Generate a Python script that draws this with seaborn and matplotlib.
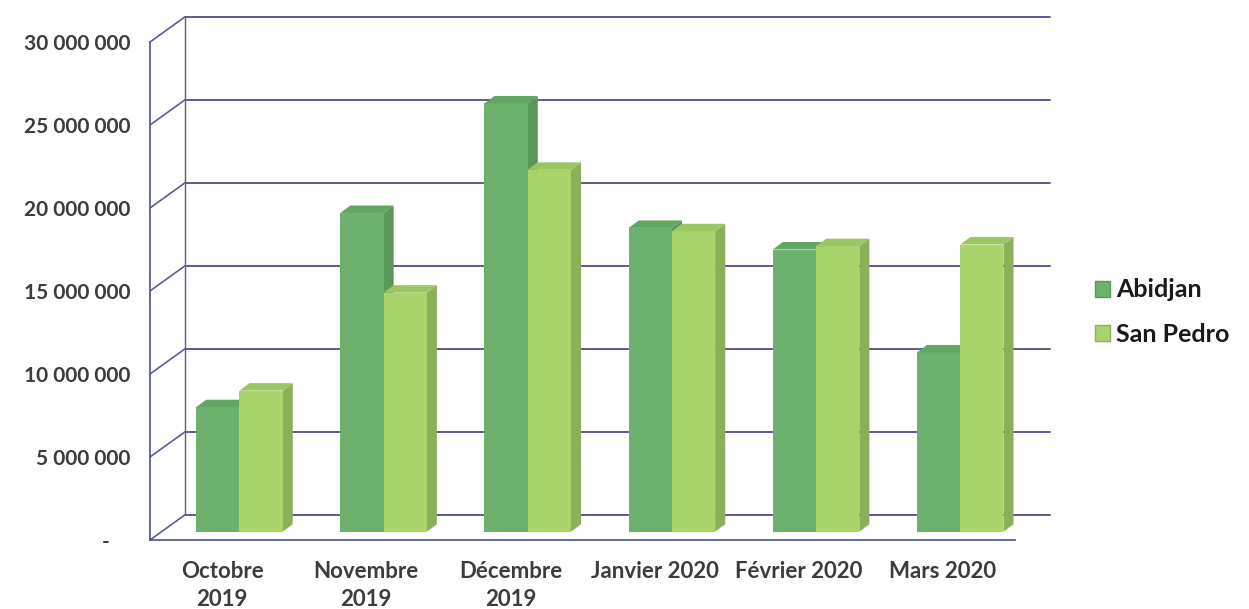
#!/usr/bin/env python3
"""
Monthly values Abidjan vs San Pedro, pseudo-3D clustered bars (Excel look).
"""

import matplotlib

matplotlib.use("Agg")
import matplotlib.pyplot as plt
import pandas as pd
import seaborn as sns
from matplotlib.patches import Patch, Polygon

months = ["Octobre\n2019", "Novembre\n2019", "Décembre\n2019", "Janvier 2020", "Février 2020", "Mars 2020"]
sites = ["Abidjan", "San Pedro"]
abidjan = [7.5e6, 19.2e6, 25.8e6, 18.3e6, 17.0e6, 10.8e6]
san_pedro = [8.5e6, 14.4e6, 21.8e6, 18.1e6, 17.2e6, 17.3e6]
yticks = [0, 5e6, 10e6, 15e6, 20e6, 25e6, 30e6]
# Excel accounting format pads the dash for zero
ytick_labels = ["-    ", "5 000 000", "10 000 000", "15 000 000", "20 000 000", "25 000 000", "30 000 000"]

front_colors = ["#6cb26e", "#a9d46c"]
side_colors = ["#5a9858", "#8cb05a"]
top_colors = ["#62a663", "#9bc763"]
grid_color = "#5a5d96"
text_color = "#3c3c3c"


def main():
    df = pd.DataFrame({
        "mois": months * 2,
        "valeur": abidjan + san_pedro,
        "site": [sites[0]] * len(months) + [sites[1]] * len(months),
    })

    sns.set_style("white")
    plt.rcParams["font.family"] = ["Lato", "DejaVu Sans"]

    fig = plt.figure(figsize=(12.49, 6.09), dpi=100)
    ax = fig.add_axes([150 / 1249, 69 / 609, 865 / 1249, 498 / 609])

    sns.barplot(data=df, x="mois", y="valeur", hue="site", order=months, hue_order=sites,
                palette=front_colors, saturation=1, width=0.6, legend=False, ax=ax)

    ax.set_xlim(-0.5, len(months) - 0.5)
    ax.set_ylim(0, 30e6)

    # depth of the fake 3D box, in data units
    depth_x, depth_y = 0.24, 1.5e6
    side_x, side_y = 0.07, 0.45e6

    # back wall gridlines + left wall diagonals
    for y in yticks:
        ax.plot([-0.5 + depth_x, len(months) - 0.5 + depth_x], [y + depth_y, y + depth_y],
                color=grid_color, lw=1.4, clip_on=False, zorder=0.5)
        ax.plot([-0.5, -0.5 + depth_x], [y, y + depth_y],
                color=grid_color, lw=1.2, clip_on=False, zorder=0.5)
    ax.plot([-0.5 + depth_x, -0.5 + depth_x], [depth_y, 30e6 + depth_y],
            color=grid_color, lw=1.0, clip_on=False, zorder=0.5)

    # bars sit at mid depth; add side and top faces
    n = len(months)
    for i, bar in enumerate(ax.patches[: 2 * n]):
        k = i // n
        bar.set_x(bar.get_x() + depth_x / 2)
        bar.set_y(depth_y / 2 - 0.25e6)
        bar.set_zorder(2 + 2 * k)
        bar.set_edgecolor("none")
        x0, x1 = bar.get_x(), bar.get_x() + bar.get_width()
        y0, y1 = bar.get_y(), bar.get_y() + bar.get_height()
        side = Polygon([(x1, y0), (x1 + side_x, y0 + side_y), (x1 + side_x, y1 + side_y), (x1, y1)],
                       closed=True, facecolor=side_colors[k], edgecolor="none", zorder=1.9 + 2 * k)
        top = Polygon([(x0, y1), (x0 + side_x, y1 + side_y), (x1 + side_x, y1 + side_y), (x1, y1)],
                      closed=True, facecolor=top_colors[k], edgecolor="none", zorder=2.1 + 2 * k)
        ax.add_patch(side)
        ax.add_patch(top)

    # axes styling
    for s in ["top", "right"]:
        ax.spines[s].set_visible(False)
    for s in ["left", "bottom"]:
        ax.spines[s].set_color(grid_color)
        ax.spines[s].set_linewidth(1.3)

    ax.set_yticks(yticks)
    ax.set_yticklabels(ytick_labels)
    ax.set_xticks(range(n))
    ax.set_xticklabels(months, linespacing=1.45)
    ax.set_xticks([i - 0.5 for i in range(n + 1)], minor=True)
    ax.tick_params(axis="y", length=6, width=1.2, color=grid_color, labelsize=15, labelcolor=text_color, pad=8)
    ax.tick_params(axis="x", which="major", length=0, labelsize=16, labelcolor=text_color, pad=15)
    ax.tick_params(axis="x", which="minor", length=6, width=1.2, color=grid_color)
    for lbl in ax.get_yticklabels() + ax.get_xticklabels():
        lbl.set_fontweight("bold")
    ax.set_xlabel("")
    ax.set_ylabel("")

    handles = [Patch(facecolor=front_colors[k], edgecolor=side_colors[k], label=sites[k]) for k in range(2)]
    leg = fig.legend(handles=handles, loc="center left", bbox_to_anchor=(1072 / 1249, 1 - 312 / 609),
                     frameon=False, handlelength=0.6, handleheight=0.6, handletextpad=0.25,
                     labelspacing=0.85, prop={"family": ["Lato", "DejaVu Sans"], "weight": "bold", "size": 18})
    for t in leg.get_texts():
        t.set_color("#1a1a1a")

    fig.savefig("out.png", dpi=100)


if __name__ == "__main__":
    main()
